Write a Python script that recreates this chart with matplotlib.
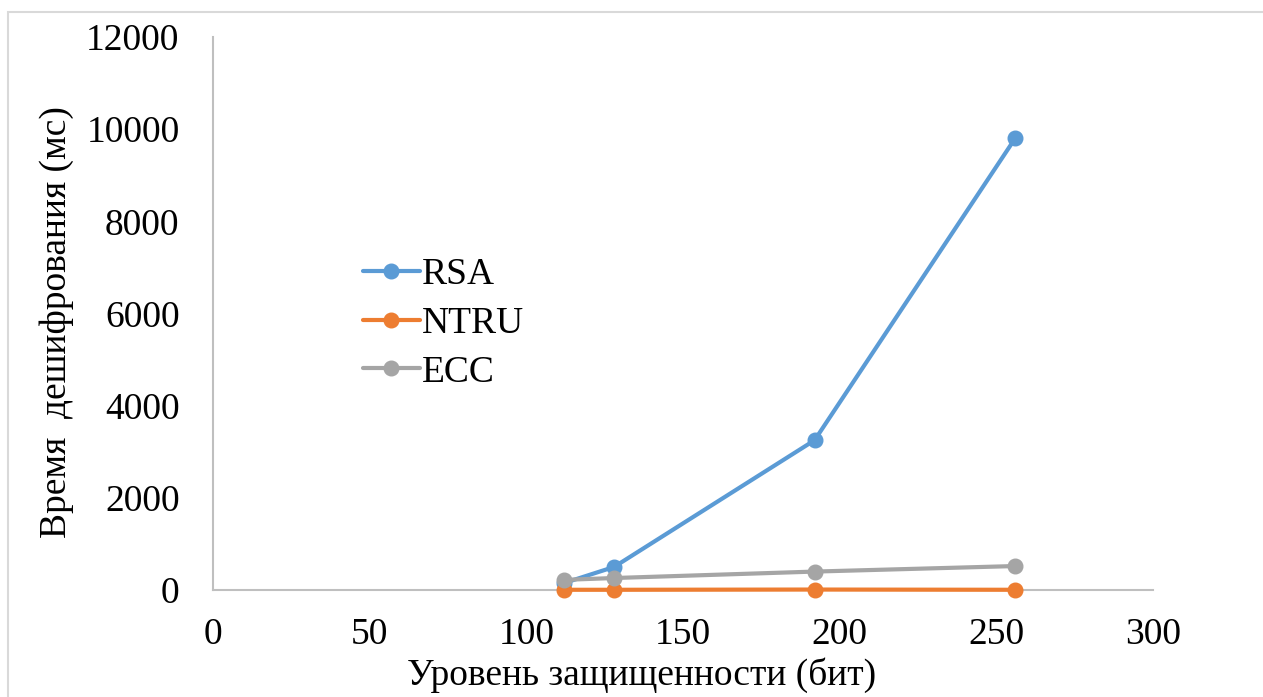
import matplotlib
matplotlib.use("Agg")
import matplotlib.pyplot as plt
from matplotlib.patches import Rectangle

# -------------------------------------------------------
# ДАННЫЕ
# -------------------------------------------------------
security_bits = [112, 128, 192, 256]
rsa_ms = [150, 500, 3250, 9800]
ntru_ms = [5, 5, 10, 5]
ecc_ms = [220, 260, 400, 520]

series_names = ["RSA", "NTRU", "ECC"]
series_colors = ["#5B9BD5", "#ED7D31", "#A5A5A5"]

x_ticks = [0, 50, 100, 150, 200, 250, 300]
y_ticks = [0, 2000, 4000, 6000, 8000, 10000, 12000]

# -------------------------------------------------------
# ГРАФИК
# -------------------------------------------------------
plt.rcParams['font.family'] = ['Liberation Serif', 'DejaVu Serif']
FS = 27

fig = plt.figure(figsize=(12.63, 6.97), dpi=100)
ax = fig.add_axes([0.1686, 0.1535, 0.7443, 0.7934])

# рамка вокруг диаграммы
fig.patches.append(Rectangle((8 / 1263, -0.01), 1.2, 1 - 12 / 697 + 0.01,
                             transform=fig.transFigure, fill=False,
                             edgecolor="#D9D9D9", linewidth=1.5))

for vals, name, col in zip([rsa_ms, ntru_ms, ecc_ms], series_names, series_colors):
    ax.plot(security_bits, vals, color=col, linewidth=3, marker='o',
            markersize=10.5, label=name, solid_capstyle='round',
            clip_on=False, zorder=3)

ax.set_xlim(0, 300)
ax.set_ylim(0, 12000)
ax.set_xticks(x_ticks)
ax.set_yticks(y_ticks)

for side in ['top', 'right']:
    ax.spines[side].set_visible(False)
for side in ['left', 'bottom']:
    ax.spines[side].set_color("#BFBFBF")
    ax.spines[side].set_linewidth(1.5)
    ax.spines[side].set_zorder(1)

ax.tick_params(axis='both', length=0, labelsize=FS)
ax.tick_params(axis='y', pad=24)
ax.tick_params(axis='x', pad=20)

ax.set_xlabel("Уровень защищенности (бит)", fontsize=FS, labelpad=4)
ax.set_ylabel("Время  дешифрования (мс)", fontsize=FS, labelpad=9)
ax.xaxis.label.set_x(0.456)
ax.yaxis.label.set_y(0.484)

ax.legend(loc='upper left', bbox_to_anchor=(0.14, 0.635), frameon=False,
          fontsize=FS, handlelength=1.5, handletextpad=0.05, labelspacing=0.38,
          borderpad=0)

fig.savefig("out.png", dpi=100)
